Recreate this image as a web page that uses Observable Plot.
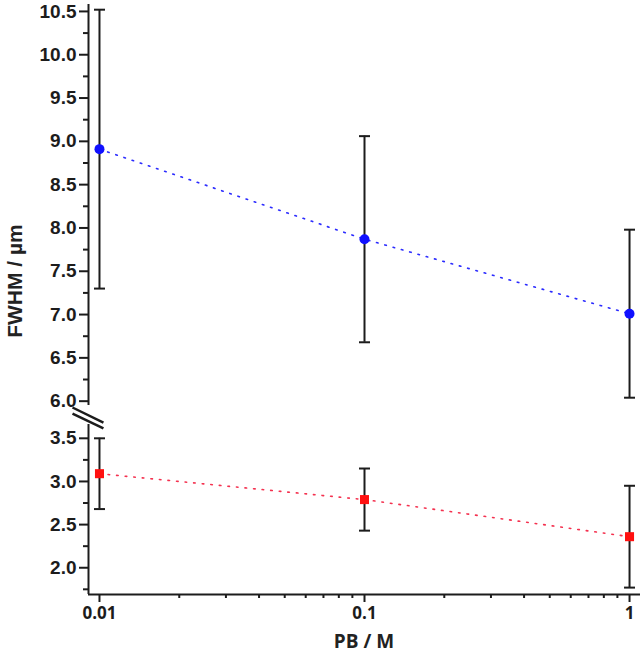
<!DOCTYPE html>
<html><head><meta charset="utf-8">
<script src="https://cdn.jsdelivr.net/npm/d3@7"></script>
<script src="https://cdn.jsdelivr.net/npm/@observablehq/plot@0.6"></script>
<style>
body{margin:0;background:#fff;}
#chart{position:relative;width:644px;height:656px;overflow:hidden;}
#chart svg{display:block;}
.ylab{position:absolute;left:15px;top:281px;transform:translate(-50%,-50%) rotate(-90deg);white-space:nowrap;font:bold 21px "Liberation Sans",Arial,sans-serif;color:#222;}
.xlab{position:absolute;left:364px;top:641px;transform:translate(-50%,-50%);white-space:nowrap;font:bold 19px "Open Sans",sans-serif;color:#222;}
</style></head>
<body><div id="chart"></div>
<script>
// data
const concentrations = [0.01, 0.1, 1];
const blueFWHM = [8.91, 7.87, 7.01];
const blueErr = [1.61, 1.19, 0.97];
const redFWHM = [3.09, 2.79, 2.36];
const redErr = [0.41, 0.36, 0.59];
// axes
const xDomain = [0.00909, 1.1];
const upperDomain = [5.95, 10.58];
const lowerDomain = [1.69, 3.66];
const upperMajor = [6.0, 6.5, 7.0, 7.5, 8.0, 8.5, 9.0, 9.5, 10.0, 10.5];
const upperMinor = [6.25, 6.75, 7.25, 7.75, 8.25, 8.75, 9.25, 9.75, 10.25];
const lowerMajor = [2.0, 2.5, 3.0, 3.5];
const lowerMinor = [1.75, 2.25, 2.75, 3.25];
const xMajor = [0.01, 0.1, 1];
const xMinor = [0.02,0.03,0.04,0.05,0.06,0.07,0.08,0.09,0.2,0.3,0.4,0.5,0.6,0.7,0.8,0.9];
const breakMarks = [
  {x1: 0.00791, y1: 3.857, x2: 0.01035, y2: 3.683},
  {x1: 0.00791, y1: 3.787, x2: 0.01035, y2: 3.614}
];

const blue = concentrations.map((x, i) => ({x, y: blueFWHM[i], e: blueErr[i]}));
const red = concentrations.map((x, i) => ({x, y: redFWHM[i], e: redErr[i]}));

const ink = "#1c1c1c";
const cap = {draw(ctx, size) { const w = Math.sqrt(size / Math.PI); ctx.moveTo(-w, 0); ctx.lineTo(w, 0); }};
const yFont = {fontSize: 19, fontWeight: "bold", fontFamily: "Liberation Sans, Arial, sans-serif", fill: ink, stroke: ink, strokeWidth: 2};

function errMarks(data) {
  return [
    Plot.ruleX(data, {x: "x", y1: d => d.y - d.e, y2: d => d.y + d.e, stroke: ink, strokeWidth: 2}),
    Plot.dot(data, {x: "x", y: d => d.y - d.e, symbol: cap, r: 5.5, stroke: ink, strokeWidth: 2}),
    Plot.dot(data, {x: "x", y: d => d.y + d.e, symbol: cap, r: 5.5, stroke: ink, strokeWidth: 2})
  ];
}

const upper = Plot.plot({
  width: 644, height: 405,
  marginLeft: 88, marginRight: 4, marginTop: 4, marginBottom: 0,
  style: {overflow: "visible", background: "transparent"},
  x: {type: "log", domain: xDomain, axis: null},
  y: {domain: upperDomain, axis: null},
  marks: [
    Plot.ruleX([xDomain[0]], {stroke: ink, strokeWidth: 2}),
    Plot.axisY({ticks: upperMajor, tickSize: 9, tickPadding: 3, tickFormat: d3.format(".1f"), label: null, ...yFont}),
    Plot.axisY({ticks: upperMinor, tickSize: 5, tickFormat: () => "", label: null, stroke: ink, strokeWidth: 2}),
    Plot.line(blue, {x: "x", y: "y", stroke: "#2b2bff", strokeWidth: 1.6, strokeDasharray: "1.6,7"}),
    ...errMarks(blue),
    Plot.dot(blue, {x: "x", y: "y", r: 5, fill: "#1010ff"})
  ]
});

const lower = Plot.plot({
  width: 644, height: 251,
  marginLeft: 88, marginRight: 4, marginTop: 19, marginBottom: 62,
  style: {overflow: "visible", background: "transparent"},
  x: {type: "log", domain: xDomain, axis: null},
  y: {domain: lowerDomain, axis: null},
  marks: [
    Plot.ruleX([xDomain[0]], {stroke: ink, strokeWidth: 2}),
    Plot.ruleY([lowerDomain[0]], {stroke: ink, strokeWidth: 2}),
    Plot.axisY({ticks: lowerMajor, tickSize: 9, tickPadding: 3, tickFormat: d3.format(".1f"), label: null, ...yFont}),
    Plot.axisY({ticks: lowerMinor, tickSize: 5, tickFormat: () => "", label: null, stroke: ink, strokeWidth: 2}),
    Plot.axisX({ticks: xMajor, tickSize: 8, tickPadding: 4, tickFormat: d => String(d), label: null,
      fontSize: 17, fontWeight: "bold", fontFamily: "Open Sans, sans-serif", fill: ink, stroke: ink, strokeWidth: 2}),
    Plot.axisX({ticks: xMinor, tickSize: 4, tickFormat: () => "", label: null, stroke: ink, strokeWidth: 2}),
    Plot.line(red, {x: "x", y: "y", stroke: "#f4314f", strokeWidth: 1.6, strokeDasharray: "1.6,7"}),
    ...errMarks(red),
    Plot.dot(red, {x: "x", y: "y", r: 5.1, symbol: "square", fill: "#ff1010"}),
    Plot.link(breakMarks, {x1: "x1", y1: "y1", x2: "x2", y2: "y2", stroke: ink, strokeWidth: 2.5})
  ]
});

const chart = document.getElementById("chart");
chart.append(upper, lower);
// tick label text should not be stroked
chart.querySelectorAll('g[aria-label$="tick label"]').forEach(g => { g.removeAttribute("stroke"); g.removeAttribute("stroke-width"); });
const yl = document.createElement("div"); yl.className = "ylab"; yl.textContent = "FWHM / µm"; chart.append(yl);
const xl = document.createElement("div"); xl.className = "xlab"; xl.textContent = "PB / M"; chart.append(xl);
</script>
</body></html>
